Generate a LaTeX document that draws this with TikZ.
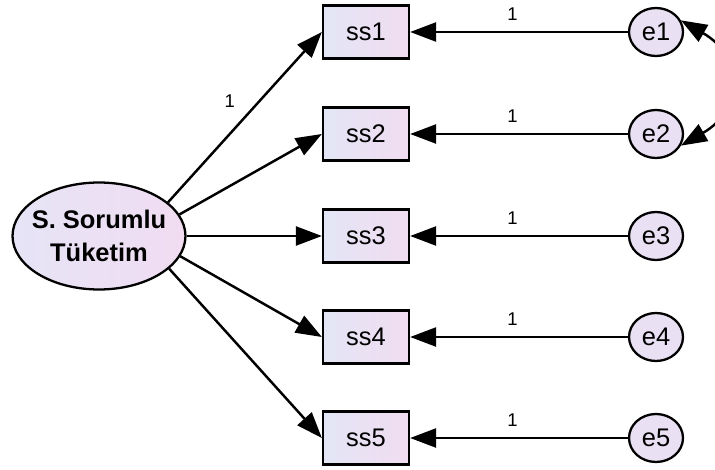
\documentclass[tikz,border=0pt]{standalone}
\usepackage{fontspec}
\setmainfont{Liberation Sans}
\usetikzlibrary{arrows.meta,shapes.geometric}
\definecolor{boxl}{HTML}{E3E6F5}
\definecolor{boxr}{HTML}{F1DCF1}
\definecolor{latl}{HTML}{E6E4F6}
\definecolor{latr}{HTML}{F1DCF2}
\definecolor{errfill}{HTML}{E9E1F3}
\tikzset{
  obs/.style={draw,line width=1.3pt,rectangle,minimum width=1.72cm,minimum height=1.06cm,
    left color=boxl,right color=boxr,font=\fontsize{14.5}{16}\selectfont},
  err/.style={draw,ellipse,line width=1.3pt,minimum width=1.08cm,minimum height=0.96cm,
    inner sep=0pt,fill=errfill,font=\fontsize{14.5}{16}\selectfont},
  lat/.style={draw,ellipse,line width=1.3pt,minimum width=3.46cm,minimum height=2.14cm,
    inner xsep=-4.6pt,inner ysep=0pt,left color=latl,right color=latr,align=center,
    font=\bfseries\fontsize{14.5}{18.5}\selectfont},
  load/.style={line width=1.4pt,-{Triangle[length=0.52cm,width=0.38cm]}},
  cov/.style={line width=1.4pt,{Triangle[length=0.52cm,width=0.38cm]}-{Triangle[length=0.52cm,width=0.38cm]}},
  lbl/.style={font=\fontsize{10.5}{12}\selectfont,inner sep=1pt}
}

\begin{document}
\begin{tikzpicture}[x=0.02cm,y=-0.02cm]
  \useasboundingbox (0,0) rectangle (715,469);

  % Latent factor
  \node[lat] (sst) at (99,236) {S. Sorumlu\\Tüketim};

  % Indicators with their error terms
  \foreach \i/\y in {1/32,2/134,3/236,4/337,5/438}{
    \node[obs] (ss\i) at (366,\y) {ss\i};
    \node[err] (e\i) at (656,\y) {e\i};
    \draw[load] (e\i) -- (ss\i) node[lbl,pos=0.53,above=5pt] {1};
  }

  % Factor loadings
  \draw[load] (sst.26) -- (ss1.west) node[lbl,pos=0.5,above left=4pt] {1};
  \foreach \i/\a in {2/15,3/0,4/-14,5/-25}
    \draw[load] (sst.\a) -- (ss\i.west);

  % Error covariance
  \draw[cov] (e1.25) to[out=-30,in=30,looseness=1.5] (e2.-25);
\end{tikzpicture}
\end{document}
